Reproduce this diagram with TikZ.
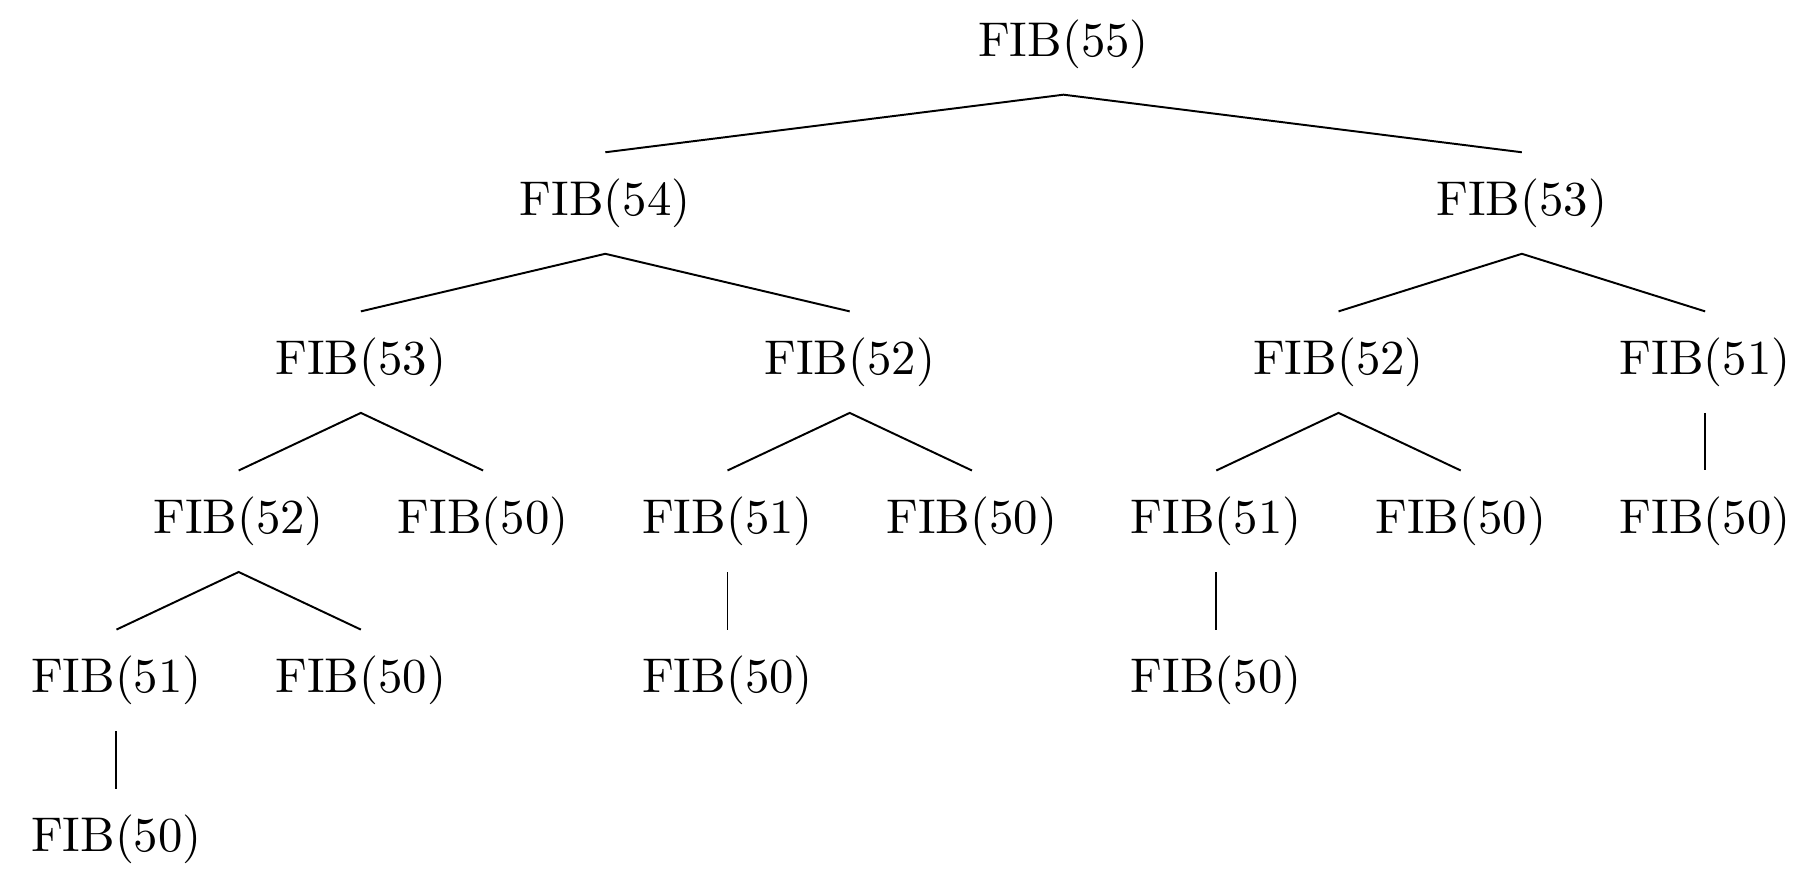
\documentclass[tikz,border=0pt]{standalone}
\begin{document}
\begin{tikzpicture}[x=25.04pt,y=-32.6pt,call/.style={inner xsep=2pt,inner ysep=5.2pt}]
		\useasboundingbox (-0.953,-0.276) rectangle (13.776,5.198);

		\node[call] (r) at (7.75,0) {$\mathrm{FIB}(55)$};

		\node[call] (rl) at (4,1) {$\mathrm{FIB}(54)$};
		\node[call] (rr) at (11.5,1) {$\mathrm{FIB}(53)$};

		\node[call] (rll) at (2,2) {$\mathrm{FIB}(53)$};
		\node[call] (rlr) at (6,2) {$\mathrm{FIB}(52)$};
		\node[call] (rrl) at (10,2) {$\mathrm{FIB}(52)$};
		\node[call] (rrr) at (13,2) {$\mathrm{FIB}(51)$};

		\node[call] (rlll) at (1,3) {$\mathrm{FIB}(52)$};
		\node[call] (rllr) at (3,3) {$\mathrm{FIB}(50)$};
		\node[call] (rlrl) at (5,3) {$\mathrm{FIB}(51)$};
		\node[call] (rlrr) at (7,3) {$\mathrm{FIB}(50)$};
		\node[call] (rrll) at (9,3) {$\mathrm{FIB}(51)$};
		\node[call] (rrlr) at (11,3) {$\mathrm{FIB}(50)$};
		\node[call] (rrrl) at (13,3) {$\mathrm{FIB}(50)$};

		\node[call] (rllll) at (0,4) {$\mathrm{FIB}(51)$};
		\node[call] (rlllr) at (2,4) {$\mathrm{FIB}(50)$};
		\node[call] (rlrll) at (5,4) {$\mathrm{FIB}(50)$};
		\node[call] (rrlll) at (9,4) {$\mathrm{FIB}(50)$};

		\node[call] (rlllll) at (0,5) {$\mathrm{FIB}(50)$};

		\draw (rl.north) -- (r.south) -- (rr.north);
		\draw (rll.north) -- (rl.south) -- (rlr.north);
		\draw (rrl.north) -- (rr.south) -- (rrr.north);
		\draw (rlll.north) -- (rll.south) -- (rllr.north);
		\draw (rlrl.north) -- (rlr.south) -- (rlrr.north);
		\draw (rrll.north) -- (rrl.south) -- (rrlr.north);
		\draw (rrr.south) -- (rrrl.north);
		\draw (rllll.north) -- (rlll.south) -- (rlllr.north);
		\draw (rlrl.south) -- (rlrll.north);
		\draw (rrll.south) -- (rrlll.north);
		\draw (rllll.south) -- (rlllll.north);

    \end{tikzpicture}
\end{document}
